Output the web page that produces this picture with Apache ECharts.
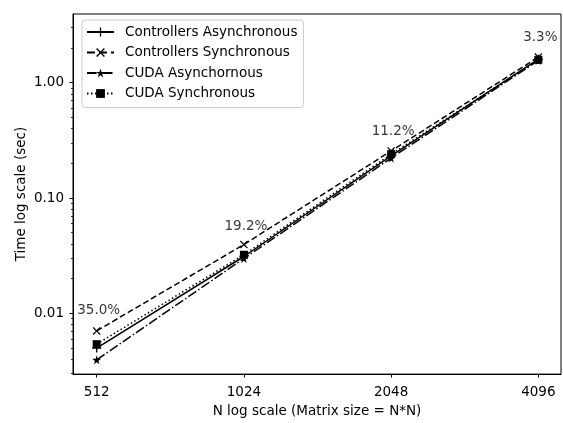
<!DOCTYPE html>
<html>
<head>
<meta charset="utf-8">
<script src="https://cdn.jsdelivr.net/npm/echarts@6/dist/echarts.min.js"></script>
<style>
html,body{margin:0;padding:0;background:#fff;}
#chart{width:563px;height:423px;}
</style>
</head>
<body>
<div id="chart"></div>
<script>
// ---- data ----
const sizes = [512, 1024, 2048, 4096];
const controllersAsync = [0.0050, 0.0311, 0.232, 1.60];
const controllersSync  = [0.00704, 0.0395, 0.256, 1.67];
const cudaAsync        = [0.00395, 0.0299, 0.222, 1.56];
const cudaSync         = [0.00540, 0.0322, 0.240, 1.58];
const pctLabels = ['35.0%', '19.2%', '11.2%', '3.3%'];
const pctLabelY = [0.0105, 0.0565, 0.381, 2.45];
const yMajorTicks = [0.01, 0.1, 1];
const yMinorTicks = [0.003,0.004,0.005,0.006,0.007,0.008,0.009,
                     0.02,0.03,0.04,0.05,0.06,0.07,0.08,0.09,
                     0.2,0.3,0.4,0.5,0.6,0.7,0.8,0.9,2,3];
const seriesNames = ['Controllers Asynchronous','Controllers Synchronous','CUDA Asynchornous','CUDA Synchronous'];

// ---- styles ----
const FONT = 'DejaVu Sans';
const FS = 13.5;
const plusPath = 'path://M4.25,0 h1.5 v4.25 h4.25 v1.5 h-4.25 v4.25 h-1.5 v-4.25 h-4.25 v-1.5 h4.25 Z';
const xPath = 'path://M0,1.1 L1.1,0 L5,3.9 L8.9,0 L10,1.1 L6.1,5 L10,8.9 L8.9,10 L5,6.1 L1.1,10 L0,8.9 L3.9,5 Z';
const starPath = 'path://M10,0 L12.25,6.91 L19.51,6.91 L13.63,11.18 L15.88,18.09 L10,13.82 L4.12,18.09 L6.37,11.18 L0.49,6.91 L7.75,6.91 Z';

function pairs(vals){ return sizes.map((s,i)=>[s, vals[i]]); }
function lineSeries(name, vals, symbol, symbolSize, type){
  return {
    name, type:'line', data: pairs(vals),
    symbol, symbolSize, showSymbol:true,
    lineStyle:{color:'#000', width:1.5, type},
    itemStyle:{color:'#000', borderWidth:0},
    emphasis:{disabled:true},
    z: 3
  };
}

const chart = echarts.init(document.getElementById('chart'), null, {renderer:'canvas'});
const axisText = {color:'#000', fontFamily:FONT, fontSize:FS};
chart.setOption({
  animation:false,
  backgroundColor:'#fff',
  grid:{left:73, top:14, right:2, bottom:47, show:true, borderColor:'#000', borderWidth:1, containLabel:false},
  legend:{
    orient:'vertical', left:82, top:20,
    data: seriesNames,
    itemWidth:27, itemHeight:11, itemGap:6.5,
    padding:[5,6,7,4],
    borderColor:'#cccccc', borderWidth:1, borderRadius:3,
    backgroundColor:'rgba(255,255,255,0.8)',
    textStyle:{color:'#000', fontFamily:FONT, fontSize:FS, padding:[0,0,0,6]},
    selectedMode:false
  },
  xAxis:{
    type:'log', logBase:2, min:458, max:4557,
    name:'N log scale (Matrix size = N*N)', nameLocation:'middle', nameGap:29,
    nameTextStyle:{color:'#000', fontFamily:FONT, fontSize:FS},
    axisLine:{show:true, lineStyle:{color:'#000', width:1}},
    axisTick:{show:true, length:3.5, inside:false, customValues:sizes, lineStyle:{color:'#000'}},
    axisLabel:Object.assign({customValues:sizes, margin:11, formatter:v=>String(Math.round(v))}, axisText),
    splitLine:{show:false}, minorTick:{show:false}
  },
  yAxis:[{
    type:'log', logBase:10, min:0.00297, max:3.945,
    name:'Time log scale (sec)', nameLocation:'middle', nameGap:45, nameMoveOverlap:false,
    nameTextStyle:{color:'#000', fontFamily:FONT, fontSize:FS},
    axisLine:{show:true, lineStyle:{color:'#000', width:1}},
    axisTick:{show:true, length:3.5, customValues:yMajorTicks, lineStyle:{color:'#000'}},
    axisLabel:Object.assign({customValues:yMajorTicks, margin:9, formatter:v=>Number(v).toFixed(2)}, axisText),
    splitLine:{show:false}
  },{
    type:'log', logBase:10, min:0.00297, max:3.945, position:'left',
    axisLine:{show:false},
    axisTick:{show:true, length:2, customValues:yMinorTicks, lineStyle:{color:'#000', width:0.8}},
    axisLabel:{show:false},
    splitLine:{show:false}
  }],
  series:[
    lineSeries(seriesNames[0], controllersAsync, plusPath, 9, 'solid'),
    lineSeries(seriesNames[1], controllersSync, xPath, 8, 'dashed'),
    lineSeries(seriesNames[2], cudaAsync, starPath, 9, [9.6,2.4,1.5,2.4]),
    lineSeries(seriesNames[3], cudaSync, 'rect', 8, [1.5,2.5]),
    {
      type:'scatter', name:'pct', silent:true,
      data: sizes.map((s,i)=>({value:[s, pctLabelY[i]], label:{formatter:pctLabels[i]}})),
      symbolSize:0,
      label:{show:true, position:'inside', offset:[2,0], color:'#000', fontFamily:FONT, fontSize:FS},
      z:5
    }
  ]
});
</script>
</body>
</html>
